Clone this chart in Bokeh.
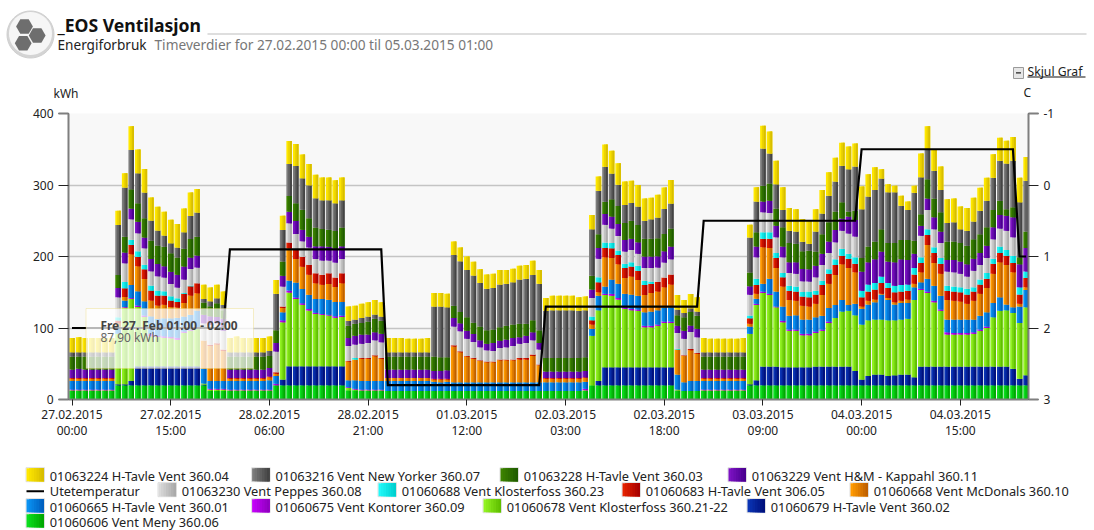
from bokeh.plotting import figure
from bokeh.embed import file_html
from bokeh.resources import INLINE
from bokeh.layouts import column
from bokeh.core.properties import value
from bokeh.models import (Range1d, LinearAxis, FixedTicker, Label, BoxAnnotation)
import math

# Values per hour, 27.02.2015 00:00 onward; one line per 24 hours
menv_06 = [12,12,12,12,12,12,12,20,20,20,20,20,20,20,20,20,20,20,20,20,20,12,12,12,
 12,12,12,12,12,12,12,20,20,20,20,20,20,20,20,20,20,20,13,13,12,12,12,12,
 12,12,12,12,12,12,12,12,12,12,12,12,12,12,12,12,12,12,12,12,12,12,12,12,
 12,12,12,12,12,12,12,20,20,20,20,20,20,20,20,20,20,20,20,20,12,12,12,12,
 12,12,12,12,12,12,12,20,20,20,20,20,20,20,20,20,20,20,20,20,20,20,20,20,
 20,20,20,20,20,20,20,20,20,20,20,20,20,20,20,20,20,20,20,20,20,20,20,20,20,20]
tavle_02 = [0,0,0,0,0,0,0,1.5,1.5,6,26.5,26.5,26.5,26.5,26.5,26.5,26.5,26.5,26.5,26.5,1,0,0,0,
 0,0,0,0,0,0,0,0,8,26.5,26.5,26.5,26.5,26.5,26.5,26.5,26.5,26.5,0,0,0,0,0,0,
 0,0,0,0,0,0,0,0,0,0,0,0,0,0,0,0,0,0,0,0,0,0,0,0,
 0,0,0,0,0,0,0,0,6,25,25,25,25,25,25,25,25,25,25,25,0.5,0,0,0,
 0,0,0,0,0,0,0,1.5,7,26,26,26,25,25,25,25,25,26,26,26,26,26,26,20,
 8,13,15,15,13,14,15,15,11,26,26,26,26,26,26,26,26,26,26,26,26,26,26,23,9,14]
kloster_2122 = [1,1,1,1,1,1,1,70,107,115,83,69,42,41,40,39,37,47,50,53,1.5,2,2,2,
 1,1,1,1,1,1,1,0,80,103,94,86,78,73,72,71,68,69,3,1,1,1,1,1,
 0,0,0,0,0,0,0,0,0,0,0,0,0,0,0,0,0,0,0,0,0,0,0,0,
 0,0,0,0,0,0,1,69,99,101,100,95,82,80,79,56,56,58,62,62,1.5,0,0,0,
 1,1,1,1,1,1,1,70,105,103,100,83,63,51,51,45,45,47,50,61,68,77,78,78,
 77,78,77,77,78,77,77,78,108,107,103,90,78,45,45,45,45,46,50,54,69,78,79,78,78,95]
kontorer_09 = [1,1,1,1,1,1,1,0.5,1,1,2,2,3,2,2,2,3,1.5,1,2,0,1,1,1,
 1,1,1,1,1,1,1,2,3,3,2,2,2,2,1,1,2,2,1,1,1,1,1,1,
 0,0,0,0,0,0,0,0,0,0,0,0,0,0,0,0,0,0,0,0,0,0,0,0,
 0,0,0,0,0,0,2,0,0,2,3,2,2,2,2,2,2,2,2,2,0,0,0,0,
 1,1,1,1,1,1,1,0.5,2,2,2,1,2,2,2,2,2,2,2,2,0,0,0,0,
 0,0,0,0,0,0,0,0,0,2,2,2,2,3,2,2,2,2,2,2,0,0,0,0,0,0]
tavle_01 = [12,12,12,12,12,12,12,10,9,18,20,20,25,23,25,26,28,21,21,23,21,11,11,11,
 12,12,12,12,12,12,13,11,11,14,21,20,20,19,21,21,20,19,10,12,12,12,12,12,
 14,14,14,14,14,14,14,13,12,13,12,12,12,12,12,12,12,12,12,12,12,12,12,12,
 12,12,12,12,12,12,10,10,20,10,20,20,19,20,19,19,20,20,19,20,21,12,14,14,
 12,12,12,12,12,12,12,10,7,11,21,21,20,19,20,20,20,20,19,19,18,16,8,16,
 22,22,24,35,28,22,23,22,18,9,18,21,19,18,19,19,19,18,19,20,20,19,8,8,23,24]
mcdonals_10 = [3,3,3,3,3,3,3,4.5,5,43,35,31,22,19,19,16,14,19,27,24,39,49,51,42,
 3,3,3,3,3,3,4,3,6,45,33,31,28,22,20,22,21,26,26,29,31,31,34.5,31,
 4,4,4,4,4,4,4,3,4,3,50,42,36,33,30,28,28,31,31,31,32,32,37,24,
 5,5,5,5,5,5,5,6,5,41,30,27,22,25,22,24,26,26,29,32,35,37,43,38,
 3,3,3,3,3,3,3,4,7,51,43,33,28,22,20,19,18,19,29,34,42,50,52,44,
 3,5,4,1,3,3,3,5,5,14,47,32,31,27,26,25,22,26,31,34,41,49,55,49,4,4]
tavle_05 = [1,1,1,1,1,1,1,4,12,13.5,13,13.5,14,14,13,9,8,13,13,14,0,1.5,1.5,2,
 1,1,1,1,1,1,1,2,2,8,13,14,14,14,14,15,13,14,1,0,1,1,1.5,1,
 0,0,0,0,0,0,0,1,1,1,2,1.5,1,1.5,1,1,1,1,1,1,2,2,2,1,
 1,1,1,1,1,1,1,6,14,13,13.5,13,14,14,13,14,13,13.5,13.5,14,0,1,1.5,1,
 1,1,1,1,1,1,1,7.5,12,12,13,14,13,13,13,13,13,13,14,14,14,12,13,12,
 13,13,14,15,14,14,13,12,13,13,14,14,14,13,13,13,13,13,13,13,14,13,13,13,13,13]
kloster_23 = [0,0,0,0,0,0,0,4.5,9,7,8,6.5,7,7,6,6,5,1,1,0,0,0,0,0,
 0,0,0,0,0,0,0,0,0,0,0,0,0,0,0,0,0,0,0,2,0,0,0,0,
 0,0,0,0,0,0,0,0,0,0,0,0,0,0,0,0,0,0,0,0,0,0,0,0,
 0,0,0,0,0,0,0,5,7,7.5,7.5,6.5,6,6,7,6,3,0,0,0,1,0,0,0,
 0,0,0,0,0,0,0,4,9,9,9,7,6,7,7,6.5,8,5,6,6,8,10,7,9,
 9,10,9,9,7,9,9,9,9,8,8,8,8,7,7,7,8,6,7,8,7,9,8,10,10,9]
peppes_08 = [0,0,0,0,0,0,0,28,26,28.5,25,23,20,20,19,17,15,19,23,22,24,28,28,26,
 0,0,0,0,0,0,0,29,28,27,22,22,24,20,20,18,21,20,21,19,20,21,21,22,
 0,0,0,0,0,0,0,0,0,0,26,28,24,22,18,16,15,16,17,19,20,21,20,21,
 0,0,0,0,0,0,0,26,26,25,20,20,17,17,17,18,19,20,21,21,22,23,24,22,
 0,0,0,0,0,0,0,29,30,28,27,22,22,18,18,15,14,19,22,23,24,25,28,29,
 0,0,0,0,0,0,0,0,0,30,27,25,21,20,20,19,17,23,20,21,27,25,27,26,0,0]
hm_11 = [12,13,12,12,12,12,12,13,15,15,16,15,17,17,16,17,18,18,16,17,12,12,9,17,
 12,12,12,12,12,12,12,12,15,16,18,16,15,18,20,19,20,18,11,12,13,12,11,12,
 12,12,12,12,12,12,12,11,11,12,12,11,11,11,10,9,11,10,11,11,9,10,11,9,
 9,9,9,9,9,9,9,12,15,15,17,17,16,16,16,16,16,16,16,18,10,11,9,12,
 12,12,12,12,12,12,12,12,15,15,17,16,15,15,16,17,17,16,16,16,17,17,24,23,
 27,31,33,35,30,33,36,34,20,14,16,17,16,16,17,17,17,17,17,17,17,19,21,28,32,33]
tavle_03 = [18,17,18,18,18,18,18,18,22,27,26,27,26,26,27,26,24,25,26,26,17,14,19,12,
 18,18,18,18,18,18,17,18,20,22,25,28,26,26,24,24,24,26,17,17,16,18,19,18,
 18,18,18,18,18,18,18,20,19,18,17,16,19,16,19,19,19,19,19,19,19,17,17,18,
 19,19,19,19,19,19,19,19,19,17,24,25,24,25,24,25,25,25,24,25,15,19,19,18,
 18,18,18,18,18,18,18,19,20,22,24,24,27,27,26,25,26,20,27,27,26,23,7,13,
 19,22,25,31,26,27,27,28,18,16,27,26,27,26,26,26,26,27,26,26,24,20,9,14,10,23]
newyorker_07 = [6,6,6,6,6,6,6,70,69,55,42,36,28,21,16,14,14,23,32,34,5,7,7,7,
 6,6,6,6,6,6,7,51,44,45,52,44,46,41,40,41,39,38,7,6,7,7,6,6,
 6,6,6,6,6,6,6,70,71,70,71,71,66,66,61,58,58,60,59,59,62,63,63,65,
 66,67,67,67,67,66,66,65,61,49,36,30,25,25,26,25,27,29,35,35,8,6,5,6,
 6,6,6,6,6,6,6,49,43,52,42,34,24,17,17,13,10,28,29,37,42,51,59,62,
 68,70,72,71,71,71,48,42,67,52,41,39,31,26,27,19,21,25,33,37,45,56,64,65,77,71]
tavle_04 = [20,21,20,20,20,20,20,20,20,33,33,33,32,33,33,33,33,33,33,33,20,19,19,19,
 20,22,20,20,20,20,20,19,20,32,31,33,30,33,32,32,32,32,20,19,20,20,20,20,
 20,20,20,19,19,19,20,19,19,19,19,19,19,19,19,20,20,20,19,19,19,19,20,19,
 18,20,20,20,20,19,19,20,20,31,32,30,33,31,30,31,30,32,30,33,20,18,20,20,
 20,19,19,19,19,19,20,18,20,32,31,33,32,32,31,32,33,31,33,33,33,32,32,32,
 32,31,32,13,11,9,14,12,10,33,33,30,33,33,33,32,32,33,32,32,33,32,32,33,34,33]
ute_temp = [2,2,2,2,2,2,2,2,2,2,2,2,2,2,2,2,2,2,2,2,2,2,2,2,
 0.9,0.9,0.9,0.9,0.9,0.9,0.9,0.9,0.9,0.9,0.9,0.9,0.9,0.9,0.9,0.9,0.9,0.9,0.9,0.9,0.9,0.9,0.9,0.9,
 2.8,2.8,2.8,2.8,2.8,2.8,2.8,2.8,2.8,2.8,2.8,2.8,2.8,2.8,2.8,2.8,2.8,2.8,2.8,2.8,2.8,2.8,2.8,2.8,
 1.7,1.7,1.7,1.7,1.7,1.7,1.7,1.7,1.7,1.7,1.7,1.7,1.7,1.7,1.7,1.7,1.7,1.7,1.7,1.7,1.7,1.7,1.7,1.7,
 0.5,0.5,0.5,0.5,0.5,0.5,0.5,0.5,0.5,0.5,0.5,0.5,0.5,0.5,0.5,0.5,0.5,0.5,0.5,0.5,0.5,0.5,0.5,0.5,
 -0.5,-0.5,-0.5,-0.5,-0.5,-0.5,-0.5,-0.5,-0.5,-0.5,-0.5,-0.5,-0.5,-0.5,-0.5,-0.5,-0.5,-0.5,-0.5,-0.5,-0.5,-0.5,-0.5,-0.5,1,1]

x_tick_hours = [0, 15, 30, 45, 60, 75, 90, 105, 120, 135]
x_tick_dates = ["27.02.2015", "27.02.2015", "28.02.2015", "28.02.2015", "01.03.2015",
                "02.03.2015", "02.03.2015", "03.03.2015", "04.03.2015", "04.03.2015"]
x_tick_times = ["00:00", "15:00", "06:00", "21:00", "12:00", "03:00", "18:00", "09:00", "00:00", "15:00"]
left_ticks = [0, 100, 200, 300, 400]
right_ticks = [-1, 0, 1, 2, 3]

# bottom to top: values, left shade, right shade
stack = [
 (menv_06,      "#0ade1e", "#00a800"),
 (tavle_02,     "#0a34b4", "#00107c"),
 (kloster_2122, "#92f222", "#60c000"),
 (kontorer_09,  "#c402f8", "#9000c0"),
 (tavle_01,     "#0a92f2", "#0060c0"),
 (mcdonals_10,  "#ff9a00", "#c06000"),
 (tavle_05,     "#e42200", "#a80000"),
 (kloster_23,   "#22f8f8", "#00d0d0"),
 (peppes_08,    "#dadada", "#aaaaaa"),
 (hm_11,        "#7c12c2", "#4a0090"),
 (tavle_03,     "#3c8200", "#1f5c00"),
 (newyorker_07, "#7c7c7c", "#444444"),
 (tavle_04,     "#ffe800", "#d8be00"),
]
for s in stack:
    assert len(s[0]) == 146
assert len(ute_temp) == 146

FONT = "Noto Sans"
W = 1094
HEAD_H, CHART_H, LEG_H = 104, 346, 80
X0 = 68
px_per_hour = 6.58
start = (X0 - 71.5) / px_per_hour

def mix(a, b, t):
    ca = [int(a[i:i+2], 16) for i in (1, 3, 5)]
    cb = [int(b[i:i+2], 16) for i in (1, 3, 5)]
    return "#%02x%02x%02x" % tuple(round(x + (y - x) * t) for x, y in zip(ca, cb))

# ---------------- chart ----------------
p = figure(width=W, height=CHART_H, output_backend="svg", toolbar_location=None,
           x_range=Range1d(start, start + 960 / px_per_hour), y_range=Range1d(0, 400),
           frame_width=960, frame_height=286, frame_align=False,
           min_border_left=X0, min_border_right=W - X0 - 960,
           min_border_top=9, min_border_bottom=CHART_H - 9 - 286,
           background_fill_color="#f8f8f8", border_fill_color="#ffffff", outline_line_color=None)
p.extra_y_ranges = {"temp": Range1d(3, -1)}

hours = list(range(146))
BAR = 0.84
bottom = [0.0] * 146
for vals, c1, c2 in stack:
    top = [b + v for b, v in zip(bottom, vals)]
    for i in range(3):
        frac = (3 - i) / 3
        x_off = BAR / 2 - BAR * frac / 2
        p.vbar(x=[h + x_off for h in hours], width=BAR * frac, bottom=bottom, top=top,
               fill_color=mix(c1, c2, i / 2), line_color=None)
    bottom = top

p.line(hours, ute_temp, y_range_name="temp", line_color="#000000", line_width=2.2,
       line_join="miter")

p.xgrid.visible = False
p.ygrid.ticker = FixedTicker(ticks=left_ticks)
p.ygrid.grid_line_color = "#c4c4c4"
p.ygrid.grid_line_width = 1.6
p.ygrid.level = "underlay"

def style_axis(ax):
    ax.axis_line_color = "#7f7f7f"
    ax.axis_line_width = 2
    ax.major_tick_line_color = "#222222"
    ax.major_tick_in = 0
    ax.major_label_text_font = FONT
    ax.major_label_text_font_size = "12px"
    ax.major_label_text_color = "#222222"

xa = p.xaxis[0]
style_axis(xa)
xa.ticker = FixedTicker(ticks=x_tick_hours)
xa.major_label_overrides = dict(zip(x_tick_hours, x_tick_dates))
xa.major_tick_out = 6
xa.minor_tick_line_color = None
xa.major_label_standoff = 4

xb = LinearAxis(ticker=FixedTicker(ticks=x_tick_hours))
style_axis(xb)
xb.axis_line_color = None
xb.major_tick_line_color = None
xb.minor_tick_line_color = None
xb.major_tick_out = 0
xb.major_label_standoff = 0
xb.major_label_overrides = dict(zip(x_tick_hours, x_tick_times))
p.add_layout(xb, "below")

ya = p.yaxis[0]
style_axis(ya)
ya.ticker = FixedTicker(ticks=left_ticks, minor_ticks=[0, 400])
ya.major_tick_out = 10
ya.minor_tick_out = 10
ya.minor_tick_in = 0
ya.minor_tick_line_color = "#7f7f7f"
ya.minor_tick_line_width = 2
ya.major_label_standoff = 5

ra = LinearAxis(y_range_name="temp", ticker=FixedTicker(ticks=right_ticks, minor_ticks=[-1, 3]))
style_axis(ra)
ra.major_tick_out = 10
ra.minor_tick_out = 10
ra.minor_tick_in = 0
ra.minor_tick_line_color = "#7f7f7f"
ra.minor_tick_line_width = 2
ra.major_label_standoff = 5
ra.major_label_overrides = {-1: "-1"}
p.add_layout(ra, "right")

# tooltip, in the chart's canvas pixels
p.add_layout(BoxAnnotation(left=85.5, right=253, top=308 - HEAD_H, bottom=368 - HEAD_H,
                           left_units="canvas", right_units="canvas", top_units="canvas",
                           bottom_units="canvas", fill_color="#ffffff", fill_alpha=0.72,
                           line_color="#e8d050", line_width=1, level="annotation"))
p.add_layout(Label(x=100, y=324 - HEAD_H, x_units="canvas", y_units="canvas",
                   text="Fre 27. Feb 01:00 - 02:00", text_font=FONT, text_font_size="11.9px",
                   text_color="#444444", text_font_style="bold", text_baseline="middle"))
p.add_layout(Label(x=100, y=336 - HEAD_H, x_units="canvas", y_units="canvas",
                   text="87,90 kWh", text_font=FONT, text_font_size="11.9px",
                   text_color="#666666", text_baseline="middle"))

# ---------------- strips whose data coordinates are window pixels ----------------
def strip(height, y_top):
    f = figure(width=W, height=height, output_backend="svg", toolbar_location=None,
               x_range=Range1d(0, W), y_range=Range1d(y_top + height, y_top),
               x_axis_location=None, y_axis_location=None, outline_line_color=None,
               frame_align=False, min_border=0, min_border_left=0, min_border_right=0,
               min_border_top=0, min_border_bottom=0,
               background_fill_color="#ffffff", border_fill_color="#ffffff")
    f.grid.visible = False
    return f

def text(f, x, y, s, size="12px", color="#222222", style="normal"):
    f.text([x], [y], text=[s], text_font=value(FONT), text_font_size=size, text_color=color,
           text_font_style=style, text_align="left", text_baseline="middle")

def rect(f, l, r, t, b, fill, line=None):
    f.quad(left=[l], right=[r], top=[t], bottom=[b], fill_color=fill, line_color=line)

def ngon(cx, cy, r, n, rot=0.0):
    return ([cx + r * math.cos(rot + 2 * math.pi * i / n) for i in range(n)],
            [cy + r * math.sin(rot + 2 * math.pi * i / n) for i in range(n)])

head = strip(HEAD_H, 0)
xs, ys = ngon(30, 34, 23.5, 48)
head.patch(xs, ys, fill_color="#d4d4d4", line_color="#cfcfcf")
xs, ys = ngon(30, 33, 21.5, 48)
head.patch(xs, ys, fill_color="#f6f6f6", line_color=None)
for hx, hy in [(24, 26), (36.7, 35), (22.7, 42.7)]:
    xs, ys = ngon(hx, hy, 8.4, 6)
    head.patch(xs, ys, fill_color="#6e6e6e", line_color=None)
text(head, 57, 24, "_EOS Ventilasjon", size="17.6px", color="#111111", style="bold")
rect(head, 207, 1086, 33, 34, "#bdbdbd")
text(head, 57, 44, "Energiforbruk", size="13.6px")
text(head, 154, 44, "Timeverdier for 27.02.2015 00:00 til 05.03.2015 01:00", size="13.7px", color="#777777")
text(head, 53, 92.5, "kWh")
text(head, 1023, 92, "C")
rect(head, 1013, 1023, 67, 78, "#e6e6e6", "#9a9a9a")
rect(head, 1015.5, 1020.5, 71.7, 73, "#222222")
text(head, 1027, 71, "Skjul Graf", size="12.2px")
rect(head, 1027, 1085, 76, 77, "#111111")

leg = strip(LEG_H, HEAD_H + CHART_H)
legend_rows = [
    (475.7, [(26, stack[12], "01063224 H-Tavle Vent 360.04"), (251.6, stack[11], "01063216 Vent New Yorker 360.07"),
             (500, stack[10], "01063228 H-Tavle Vent 360.03"), (728, stack[9], "01063229 Vent H&M - Kappahl 360.11")]),
    (490.7, [(26, None, "Utetemperatur"), (158, stack[8], "01063230 Vent Peppes 360.08"),
             (378, stack[7], "01060688 Vent Klosterfoss 360.23"), (622, stack[6], "01060683 H-Tavle Vent 306.05"),
             (850, stack[5], "01060668 Vent McDonals 360.10")]),
    (506.7, [(26, stack[4], "01060665 H-Tavle Vent 360.01"), (251.6, stack[3], "01060675 Vent Kontorer 360.09"),
             (483, stack[2], "01060678 Vent Klosterfoss 360.21-22"), (747, stack[1], "01060679 H-Tavle Vent 360.02")]),
    (521.7, [(26, stack[0], "01060606 Vent Meny 360.06")]),
]
for y, items in legend_rows:
    for x, st, label in items:
        if st is None:
            rect(leg, x, x + 17.5, y - 1, y + 1, "#000000")
        else:
            rect(leg, x - 0.5, x + 18, y - 8.5, y + 5.5, "#ffffff", "#dddddd")
            for i in range(7):
                rect(leg, x + i * 17.5 / 7, x + 17.5, y - 8, y + 5, mix(st[1], st[2], i / 6))
        text(leg, x + 23.3, y, label, size="12.8px")

page = column(head, p, leg, spacing=0)
open("out.html", "w").write(file_html(page, INLINE))
